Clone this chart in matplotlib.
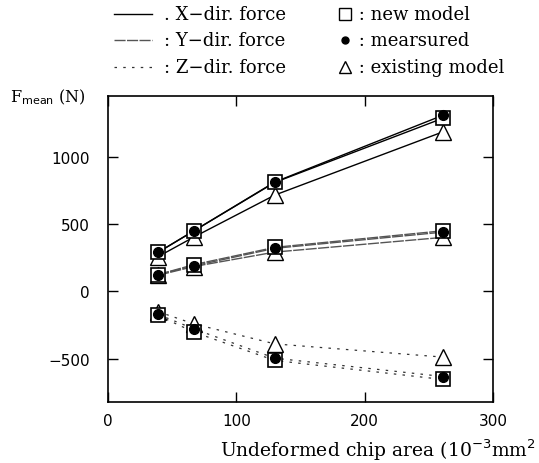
import numpy as np
import matplotlib.pyplot as plt

# undeformed chip area (10^-3 mm^2)
area = [39, 67, 130, 261]

# mean cutting force (N) per direction: new model / measured / existing model
fx_new = [290, 450, 809, 1285]
fx_meas = [290, 450, 812, 1307]
fx_old = [258, 404, 715, 1184]

fy_new = [125, 199, 327, 450]
fy_meas = [125, 190, 320, 440]
fy_old = [120, 185, 292, 401]

fz_new = [-178, -302, -512, -653]
fz_meas = [-170, -278, -495, -631]
fz_old = [-150, -241, -389, -487]

serif = 'DejaVu Serif'

fig = plt.figure(figsize=(5.39, 4.64), dpi=100)
ax = fig.add_axes([0.2004, 0.1315, 0.7143, 0.6595])

styles = {
    'x': dict(color='black', lw=1.0, ls='-'),
    'y': dict(color='#555555', lw=1.0, ls=(0, (8, 1))),
    'z': dict(color='#333333', lw=0.9, ls=(0, (2, 5))),
}
groups = [('x', fx_new, fx_meas, fx_old),
          ('y', fy_new, fy_meas, fy_old),
          ('z', fz_new, fz_meas, fz_old)]

for key, new, meas, old in groups:
    st = styles[key]
    ax.plot(area, old, zorder=1, **st)
    ax.plot(area, new, zorder=1, **st)
    ax.plot(area, meas, zorder=1, **st)
    ax.plot(area, old, ls='none', marker='^', ms=11, mfc='white',
            mec='black', mew=1.0, zorder=3)
    ax.plot(area, new, ls='none', marker='s', ms=10, mfc='white',
            mec='black', mew=1.2, zorder=4)
    ax.plot(area, meas, ls='none', marker='o', ms=7, mfc='black',
            mec='black', zorder=5)

ax.set_xlim(0, 300)
ax.set_ylim(-820, 1450)
ax.set_xticks([0, 100, 200, 300])
ax.set_yticks([-500, 0, 500, 1000])
ax.tick_params(direction='in', length=7, width=1, top=True, right=True,
               labelsize=11)
ax.tick_params(axis='x', pad=8)
ax.tick_params(axis='y', pad=13)
for s in ax.spines.values():
    s.set_linewidth(1.2)

ax.text(-0.255, 1.0, r'F$_{\mathrm{mean}}$ (N)', transform=ax.transAxes,
        fontsize=11.5, family=serif, va='center', ha='left')
fig.text(0.995, 0.03, r'Undeformed chip area (10$^{-3}$mm$^{2}$',
         fontsize=13.5, family=serif, ha='right', va='center')

# legend drawn by hand above the plot
rows = [0.967, 0.912, 0.854]
labels_l = ['. X\u2212dir. force', ': Y\u2212dir. force', ': Z\u2212dir. force']
labels_r = [' : new model', ' : mearsured', ' : existing model']
marks = [dict(marker='s', ms=8, mfc='white', mec='black'),
         dict(marker='o', ms=5, mfc='black', mec='black'),
         dict(marker='^', ms=9, mfc='white', mec='black')]
for y, key, tl, tr, mk in zip(rows, 'xyz', labels_l, labels_r, marks):
    fig.add_artist(plt.Line2D([0.212, 0.282], [y, y], transform=fig.transFigure,
                              **styles[key]))
    fig.text(0.305, y, tl, fontsize=13, family=serif, va='center')
    fig.add_artist(plt.Line2D([0.64], [y], transform=fig.transFigure,
                              ls='none', mew=1.0, **mk))
    fig.text(0.655, y, tr, fontsize=13, family=serif, va='center')

fig.savefig('out.png', dpi=100)
